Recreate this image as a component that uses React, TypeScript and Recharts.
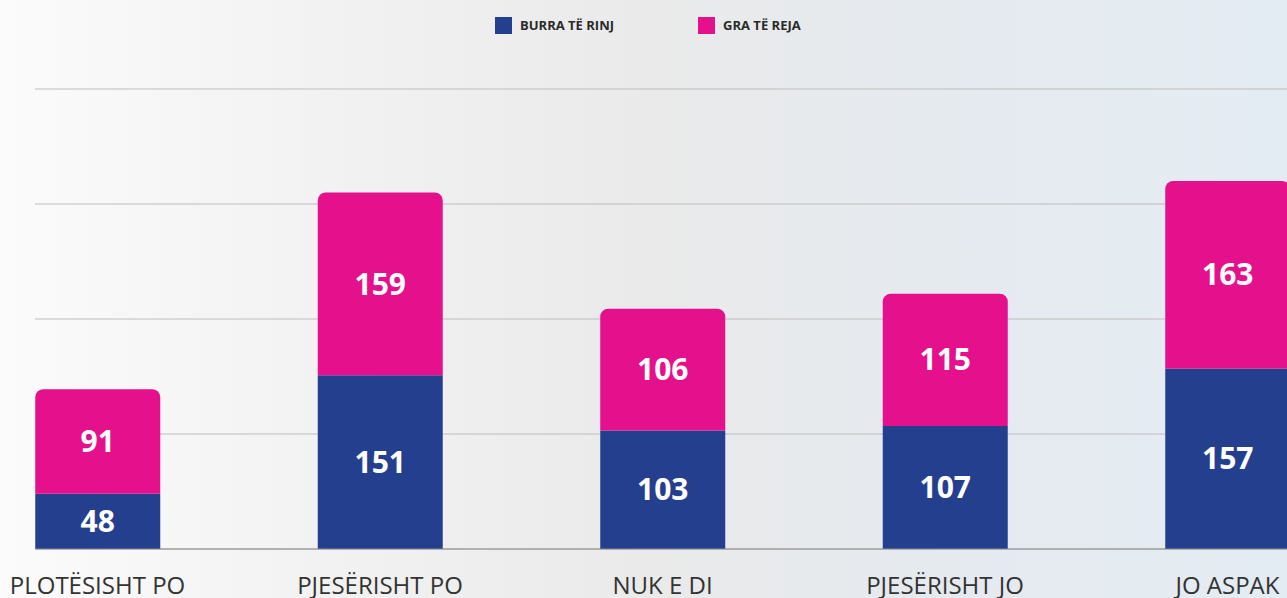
import React from 'react';
import { Bar, BarChart, CartesianGrid, LabelList, XAxis, YAxis } from 'recharts';

const categories = ['PLOTËSISHT PO', 'PJESËRISHT PO', 'NUK E DI', 'PJESËRISHT JO', 'JO ASPAK'];
const youngMen = [48, 151, 103, 107, 157];
const youngWomen = [91, 159, 106, 115, 163];
const yTicks = [0, 100, 200, 300, 400];

const BLUE = '#253f8f';
const PINK = '#e5108c';
const FONT = '"Open Sans", "Noto Sans", sans-serif';

const data = categories.map((name, i) => ({ name, men: youngMen[i], women: youngWomen[i] }));

const legendItems = [
    { label: 'BURRA TË RINJ', color: BLUE },
    { label: 'GRA TË REJA', color: PINK },
];

// legend sits above the plot, drawn as plain html
const TopLegend = () => (
    <div style={{ position: 'absolute', top: 16, left: 495, display: 'flex', gap: 84, fontFamily: FONT }}>
        {legendItems.map((it) => (
            <div key={it.label} style={{ display: 'flex', alignItems: 'center' }}>
                <span style={{ width: 17, height: 17, background: it.color, display: 'inline-block', marginRight: 8 }} />
                <span style={{ fontSize: 13, fontWeight: 700, color: '#2a2a2a' }}>{it.label}</span>
            </div>
        ))}
    </div>
);

const CategoryTick = (props: any) => {
    const { x, y, payload } = props;
    return (
        <text x={x} y={y + 45} textAnchor="middle" fill="#333" fontSize={24} fontFamily={FONT} fontWeight={400}>
            {payload.value}
        </text>
    );
};

export default function App() {
    return (
        <div
            style={{
                position: 'absolute',
                left: 0,
                top: 0,
                width: 1287,
                height: 598,
                overflow: 'hidden',
                background: 'linear-gradient(90deg, #fbfbfb 0%, #f2f2f2 25%, #eaeaea 50%, #e5eaef 72%, #e4ecf3 100%)',
            }}
        >
            <TopLegend />
            <BarChart width={1287} height={598} data={data} margin={{ top: 89, right: 0, bottom: 0, left: 35 }}>
                <CartesianGrid vertical={false} stroke="#bdbdbd" />
                <XAxis
                    dataKey="name"
                    axisLine={{ stroke: '#8a8a8a' }}
                    tickLine={false}
                    tickSize={0}
                    tickMargin={0}
                    height={49}
                    padding={{ left: -78.75, right: -81.75 }}
                    tick={<CategoryTick />}
                    interval={0}
                />
                <YAxis hide domain={[0, 400]} ticks={yTicks} />
                <Bar dataKey="men" stackId="a" fill={BLUE} barSize={125} isAnimationActive={false}>
                    <LabelList dataKey="men" position="center" fill="#fff" fontSize={30} fontWeight={700} fontFamily={FONT} />
                </Bar>
                <Bar dataKey="women" stackId="a" fill={PINK} barSize={125} radius={[8, 8, 0, 0]} isAnimationActive={false}>
                    <LabelList dataKey="women" position="center" fill="#fff" fontSize={30} fontWeight={700} fontFamily={FONT} />
                </Bar>
            </BarChart>
        </div>
    );
}
